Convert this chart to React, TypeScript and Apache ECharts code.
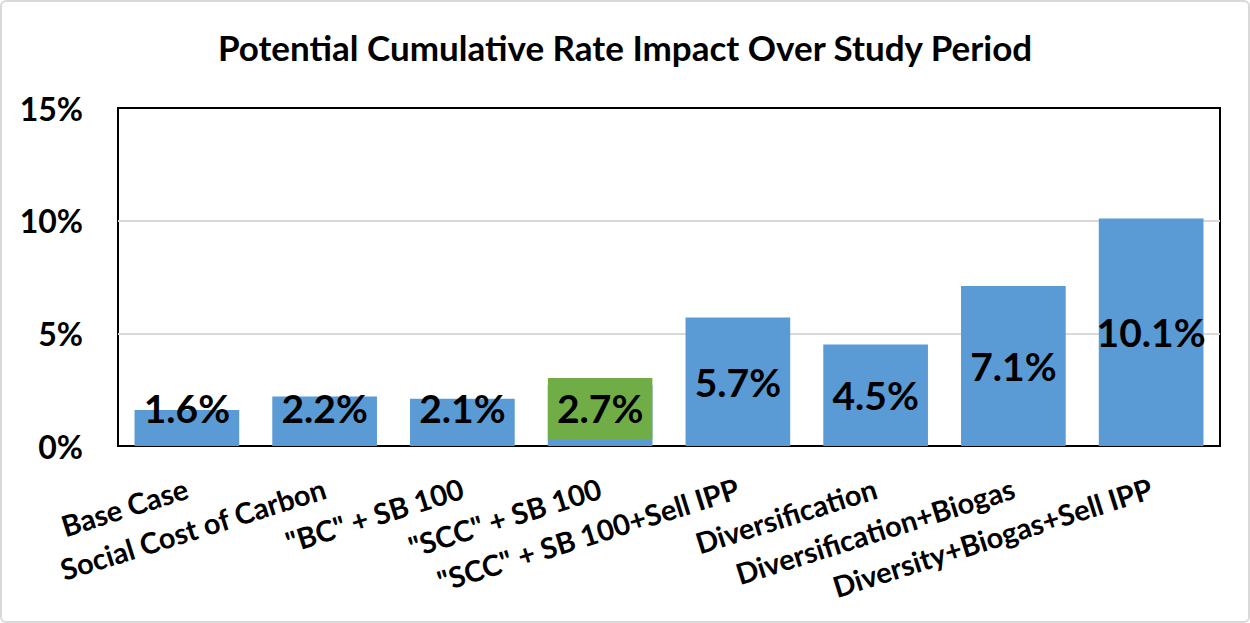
import React, { useEffect, useRef } from "react";
import * as echarts from "echarts";

const titleText = "Potential Cumulative Rate Impact Over Study Period";
const categories = [
  "Base Case",
  "Social Cost of Carbon",
  '"BC" + SB 100',
  '"SCC" + SB 100',
  '"SCC" + SB 100+Sell IPP',
  "Diversification",
  "Diversification+Biogas",
  "Diversity+Biogas+Sell IPP",
];
const rateImpact = [1.6, 2.2, 2.1, 2.7, 5.7, 4.5, 7.1, 10.1];
const highlightedCategory = '"SCC" + SB 100';
const yMin = 0;
const yMax = 15;
const yInterval = 5;

const FONT = "Lato, 'Open Sans', sans-serif";
const BLUE = "#5B9BD5";
const GREEN = "#70AD47";

export default function App() {
  const ref = useRef<HTMLDivElement>(null);

  useEffect(() => {
    document.body.style.margin = "0";
    if (!ref.current) return;
    const chart = echarts.init(ref.current, undefined, { renderer: "svg" });

    const data = rateImpact.map((v, i) => ({
      value: v,
      label: {
        position: v < 3.3 ? "insideBottom" : "inside",
        distance: 7,
        backgroundColor:
          categories[i] === highlightedCategory ? GREEN : "transparent",
      },
    }));

    chart.setOption({
      animation: false,
      backgroundColor: "#fff",
      title: {
        text: titleText,
        left: "center",
        top: 24,
        textStyle: {
          fontFamily: FONT,
          fontWeight: "bold",
          fontSize: 35,
          color: "#000",
        },
      },
      grid: {
        left: 118,
        right: 30,
        top: 108,
        bottom: 177,
        show: true,
        borderColor: "#000",
        borderWidth: 2,
        backgroundColor: "transparent",
        containLabel: false,
      },
      xAxis: {
        type: "category",
        data: categories,
        axisLine: { show: false },
        axisTick: { show: false },
        axisLabel: {
          interval: 0,
          rotate: 17.5,
          margin: 41,
          fontFamily: FONT,
          fontWeight: "bold",
          fontSize: 29,
          color: "#000",
        },
      },
      yAxis: {
        type: "value",
        min: yMin,
        max: yMax,
        interval: yInterval,
        axisLine: { show: false },
        axisTick: { show: false },
        splitLine: {
          showMinLine: false,
          showMaxLine: false,
          lineStyle: { color: "#D9D9D9", width: 2 },
        },
        axisLabel: {
          formatter: "{value}%",
          margin: 35,
          fontFamily: FONT,
          fontWeight: "bold",
          fontSize: 32,
          color: "#000",
        },
      },
      series: [
        {
          type: "bar",
          data,
          barCategoryGap: "24%",
          itemStyle: { color: BLUE },
          label: {
            show: true,
            formatter: (p: any) => `${Number(p.value).toFixed(1)}%`,
            fontFamily: FONT,
            fontWeight: "bold",
            fontSize: 39,
            lineHeight: 40,
            color: "#000",
            padding: [10, 9, 11, 9],
          },
        },
      ],
    });

    return () => chart.dispose();
  }, []);

  return (
    <div style={{ position: "relative", width: 1250, height: 623 }}>
      <div ref={ref} style={{ width: 1250, height: 623 }} />
      <div
        style={{
          position: "absolute",
          left: 0,
          top: 0,
          width: 1250,
          height: 623,
          boxSizing: "border-box",
          border: "2px solid #D9D9D9",
          borderRadius: 6,
          pointerEvents: "none",
        }}
      />
    </div>
  );
}
